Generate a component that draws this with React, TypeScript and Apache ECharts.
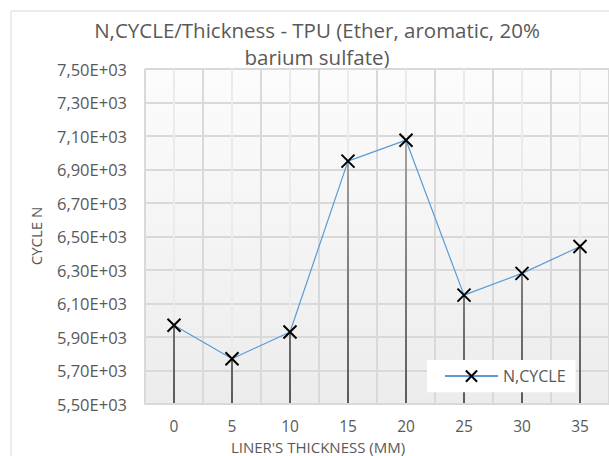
import React, { useEffect, useRef } from "react";
import * as echarts from "echarts";

const categories = ["0", "5", "10", "15", "20", "25", "30", "35"];
const nCycle = [5970, 5770, 5930, 6950, 7075, 6150, 6280, 6440];
const seriesName = "N,CYCLE";
const titleLines = ["N,CYCLE/Thickness - TPU (Ether, aromatic, 20%", "barium sulfate)"];
const xAxisTitle = "LINER'S THICKNESS (MM)";
const yAxisTitle = "CYCLE N";
const yMin = 5500;
const yMax = 7500;
const yStep = 200;

const FONT = "'Open Sans', sans-serif";
const TEXT = "#595959";

function sci(v: number): string {
  if (v === 0) return "0,00E+00";
  const e = Math.floor(Math.log10(Math.abs(v)));
  const m = v / Math.pow(10, e);
  const sign = e < 0 ? "-" : "+";
  return m.toFixed(2).replace(".", ",") + "E" + sign + String(Math.abs(e)).padStart(2, "0");
}

export default function App() {
  const ref = useRef<HTMLDivElement>(null);
  useEffect(() => {
    if (!ref.current) return;
    const chart = echarts.init(ref.current, undefined, { renderer: "svg" });
    const gridLeft = 145;
    const gridTop = 69;
    const gridWidth = 464;
    const gridHeight = 335;
    const halfCats = categories.flatMap((c) => [c + "a", c + "b"]);
    chart.setOption({
      animation: false,
      backgroundColor: "#ffffff",
      textStyle: { fontFamily: FONT, color: TEXT },
      grid: {
        left: gridLeft,
        top: gridTop,
        width: gridWidth,
        height: gridHeight,
        show: true,
        borderWidth: 0,
        backgroundColor: new echarts.graphic.LinearGradient(0, 0, 0, 1, [
          { offset: 0, color: "#fcfcfc" },
          { offset: 1, color: "#ececec" },
        ]),
      },
      legend: {
        data: [seriesName],
        left: 427,
        top: 360,
        backgroundColor: "#ffffff",
        padding: [8, 10, 8, 17],
        itemWidth: 53,
        itemHeight: 14,
        textStyle: { fontFamily: FONT, fontSize: 16, color: TEXT },
      },
      xAxis: [
        {
          type: "category",
          data: categories,
          boundaryGap: true,
          axisLine: { show: true, lineStyle: { color: "#d9d9d9", width: 2 } },
          axisTick: { show: false },
          axisLabel: { fontFamily: FONT, fontSize: 15.5, lineHeight: 16, color: TEXT, margin: 14 },
          splitLine: { show: true, lineStyle: { color: "#d9d9d9", width: 2 } },
          z: 1,
        },
        {
          type: "category",
          data: halfCats,
          boundaryGap: true,
          position: "top",
          axisLine: { show: false },
          axisTick: { show: false },
          axisLabel: { show: false },
          splitLine: {
            show: true,
            interval: (i: number) => i % 2 === 1,
            lineStyle: { color: "#ebebeb", width: 2 },
          },
        },
      ],
      yAxis: {
        type: "value",
        min: yMin,
        max: yMax,
        interval: yStep,
        axisLine: { show: false },
        axisTick: { show: false },
        axisLabel: { fontFamily: FONT, fontSize: 16.5, color: TEXT, margin: 18, formatter: (v: number) => sci(v) },
        splitLine: { show: true, lineStyle: { color: "#d9d9d9", width: 2 } },
      },
      graphic: [
        {
          type: "rect",
          shape: { x: 11, y: 11, width: 800, height: 800 },
          style: { fill: "none", stroke: "#d9d9d9", lineWidth: 1 },
          silent: true,
          z: -10,
        },
        {
          type: "text",
          x: 317,
          y: 30,
          style: { text: titleLines[0], align: "center", verticalAlign: "middle", fontFamily: FONT, fontSize: 20.5, fill: TEXT },
        },
        {
          type: "text",
          x: 317,
          y: 57,
          style: { text: titleLines[1], align: "center", verticalAlign: "middle", fontFamily: FONT, fontSize: 20.5, fill: TEXT },
        },
        {
          type: "text",
          x: 318,
          y: 447,
          style: { text: xAxisTitle, align: "center", verticalAlign: "middle", fontFamily: FONT, fontSize: 15, lineHeight: 15, fill: TEXT },
        },
        {
          type: "text",
          x: 36,
          y: 236,
          rotation: Math.PI / 2,
          style: { text: yAxisTitle, align: "center", verticalAlign: "middle", fontFamily: FONT, fontSize: 15, fill: TEXT },
        },
      ],
      series: [
        {
          type: "custom",
          silent: true,
          z: 1,
          data: nCycle.map((v, i) => [i, v]),
          renderItem: (params: any, api: any) => {
            const top = api.coord([api.value(0), api.value(1)]);
            const bottom = api.coord([api.value(0), yMin]);
            return {
              type: "line",
              shape: { x1: top[0], y1: top[1], x2: bottom[0], y2: bottom[1] },
              style: {
                stroke: new echarts.graphic.LinearGradient(0, gridTop, 0, gridTop + gridHeight, [
                  { offset: 0, color: "#b8b8b8" },
                  { offset: 1, color: "#5a5a5a" },
                ], true),
                lineWidth: 2,
              },
            };
          },
        },
        {
          type: "line",
          name: seriesName,
          data: nCycle,
          z: 3,
          symbol: "path://M0 0L10 10M10 0L0 10",
          symbolSize: 13,
          color: "#5b9bd5",
          lineStyle: { color: "#5b9bd5", width: 1.2 },
          itemStyle: { color: "none", borderColor: "#000000", borderWidth: 2 },
          emphasis: { disabled: true },
        },
      ],
    });
    return () => chart.dispose();
  }, []);
  return <div ref={ref} style={{ position: "fixed", left: 0, top: 0, width: 609, height: 456 }} />;
}
